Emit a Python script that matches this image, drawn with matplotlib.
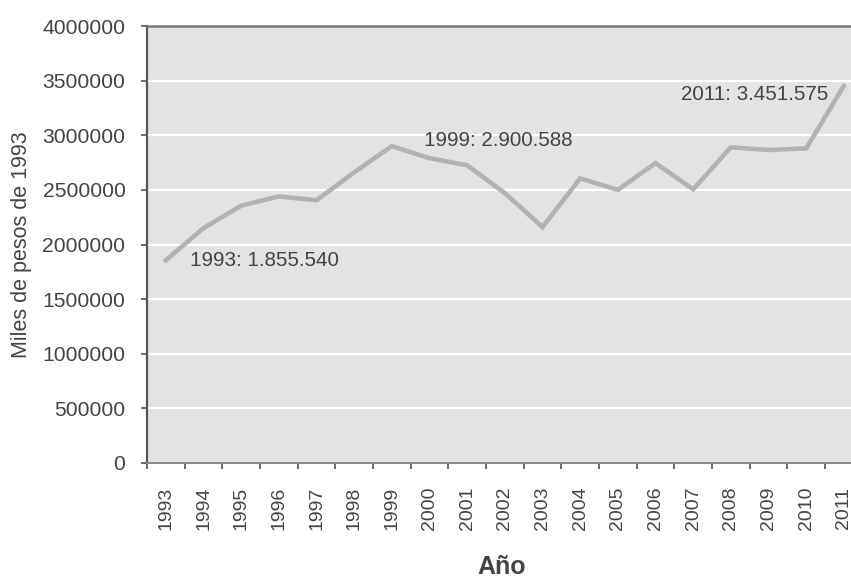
import matplotlib
matplotlib.use("Agg")
import matplotlib.pyplot as plt
import numpy as np

plt.rcParams['font.family'] = ['Liberation Sans', 'DejaVu Sans']

years = [str(y) for y in range(1993, 2012)]
values = [1855540, 2150000, 2355000, 2440000, 2405000, 2660000, 2900588,
          2790000, 2725000, 2470000, 2160000, 2605000, 2500000, 2745000,
          2505000, 2890000, 2865000, 2880000, 3451575]
yticks = [0, 500000, 1000000, 1500000, 2000000, 2500000, 3000000, 3500000, 4000000]

W, H = 851, 579
fig = plt.figure(figsize=(W / 100, H / 100), dpi=100)
ax = fig.add_axes([147 / W, 1 - 463 / H, (W - 147) / W, (463 - 26) / H])

x = np.arange(len(years))
ax.set_facecolor('#e3e3e3')
ax.plot(x, values, color='#b2b2b2', lw=3.3, solid_joinstyle='miter', zorder=3)

ax.set_ylim(0, 4000000)
ax.set_xlim(-0.5, 18.19)
ax.set_yticks(yticks)
ax.set_yticklabels([str(v) for v in yticks])
ax.yaxis.grid(True, color='white', lw=1.6)
ax.set_axisbelow(True)

# category boundaries carry the tick marks, centres carry the labels
ax.set_xticks(np.arange(-0.5, 18.0, 1.0))
ax.set_xticklabels([])
ax.set_xticks(x, minor=True)
ax.set_xticklabels(years, minor=True, rotation=90)
ax.tick_params(axis='x', which='major', length=4.5, width=1.2, color='#555555')
ax.tick_params(axis='x', which='minor', length=0, pad=17, labelsize=14,
               labelcolor='#444444')
ax.tick_params(axis='y', length=4.5, width=1.2, color='#555555', pad=11,
               labelsize=15.2, labelcolor='#444444')

ax.spines['right'].set_visible(False)
ax.spines['left'].set_color('#555555')
ax.spines['left'].set_linewidth(1.6)
ax.spines['top'].set_color('#777777')
ax.spines['top'].set_linewidth(1.8)
ax.spines['bottom'].set_color('#888888')
ax.spines['bottom'].set_linewidth(1.4)

notes = [(0, (24, 0), 'left'), (6, (32, 6), 'left'), (18, (-16, -9), 'right')]
for idx, off, ha in notes:
    v = values[idx]
    txt = f"{years[idx]}: " + f"{v:,}".replace(',', '.')
    ax.annotate(txt, (x[idx], v), xytext=off, textcoords='offset pixels',
                ha=ha, va='center', fontsize=14.9, color='#444444', zorder=4)

fig.text(22 / W, 1 - 245 / H, 'Miles de pesos de 1993', rotation=90,
         ha='center', va='center', fontsize=15.5, color='#444444')
fig.text(502 / W, 1 - 567 / H, 'Año', ha='center', va='center',
         fontsize=18, fontweight='bold', color='#444444')

fig.savefig('out.png', dpi=100, facecolor='white')
